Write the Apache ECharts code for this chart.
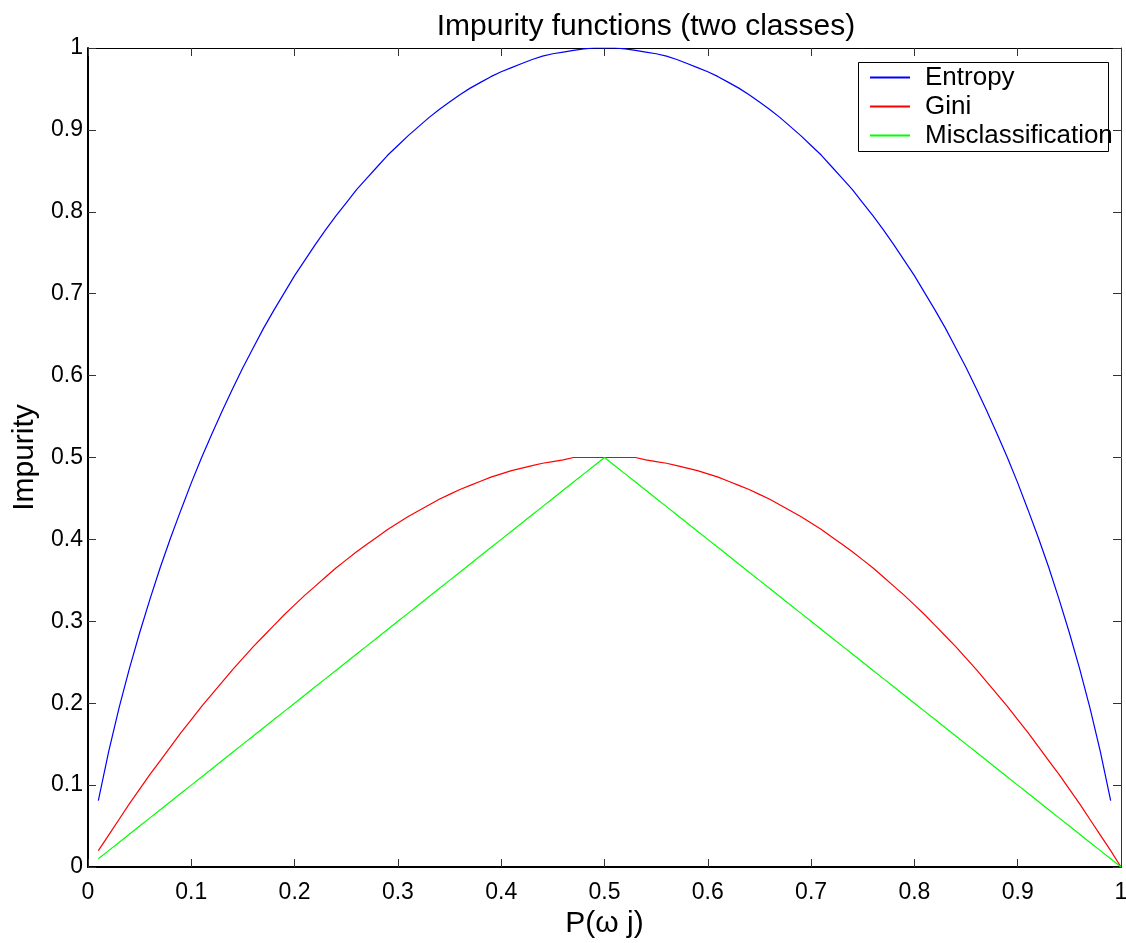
<!DOCTYPE html>
<html>
<head>
<meta charset="utf-8">
<title>Impurity functions</title>
<script src="https://cdn.jsdelivr.net/npm/echarts@6/dist/echarts.min.js"></script>
<style>
  html, body { margin: 0; padding: 0; background: #fff; }
  #chart { width: 1126px; height: 943px; }
</style>
</head>
<body>
<div id="chart"></div>
<script>
// impurity of a two-class node against P(w j)

var probs = [
    0.01, 0.02, 0.03, 0.04, 0.05, 0.06, 0.07, 0.08, 0.09, 0.10,
    0.11, 0.12, 0.13, 0.14, 0.15, 0.16, 0.17, 0.18, 0.19, 0.20,
    0.21, 0.22, 0.23, 0.24, 0.25, 0.26, 0.27, 0.28, 0.29, 0.30,
    0.31, 0.32, 0.33, 0.34, 0.35, 0.36, 0.37, 0.38, 0.39, 0.40,
    0.41, 0.42, 0.43, 0.44, 0.45, 0.46, 0.47, 0.48, 0.49, 0.50,
    0.51, 0.52, 0.53, 0.54, 0.55, 0.56, 0.57, 0.58, 0.59, 0.60,
    0.61, 0.62, 0.63, 0.64, 0.65, 0.66, 0.67, 0.68, 0.69, 0.70,
    0.71, 0.72, 0.73, 0.74, 0.75, 0.76, 0.77, 0.78, 0.79, 0.80,
    0.81, 0.82, 0.83, 0.84, 0.85, 0.86, 0.87, 0.88, 0.89, 0.90,
    0.91, 0.92, 0.93, 0.94, 0.95, 0.96, 0.97, 0.98, 0.99, 1.00
];

var entropy = [
    0.081, 0.141, 0.194, 0.242, 0.286, 0.327, 0.366, 0.402, 0.436, 0.469,
    0.500, 0.529, 0.557, 0.584, 0.610, 0.634, 0.658, 0.680, 0.701, 0.722,
    0.741, 0.760, 0.778, 0.795, 0.811, 0.827, 0.841, 0.855, 0.869, 0.881,
    0.893, 0.904, 0.915, 0.925, 0.934, 0.943, 0.951, 0.958, 0.965, 0.971,
    0.976, 0.981, 0.986, 0.990, 0.993, 0.995, 0.997, 0.999, 1.000, 1.000,
    1.000, 0.999, 0.997, 0.995, 0.993, 0.990, 0.986, 0.981, 0.976, 0.971,
    0.965, 0.958, 0.951, 0.943, 0.934, 0.925, 0.915, 0.904, 0.893, 0.881,
    0.869, 0.855, 0.841, 0.827, 0.811, 0.795, 0.778, 0.760, 0.741, 0.722,
    0.701, 0.680, 0.658, 0.634, 0.610, 0.584, 0.557, 0.529, 0.500, 0.469,
    0.436, 0.402, 0.366, 0.327, 0.286, 0.242, 0.194, 0.141, 0.081, null
];

var gini = [
    0.020, 0.039, 0.058, 0.077, 0.095, 0.113, 0.130, 0.147, 0.164, 0.180,
    0.196, 0.211, 0.226, 0.241, 0.255, 0.269, 0.282, 0.295, 0.308, 0.320,
    0.332, 0.343, 0.354, 0.365, 0.375, 0.385, 0.394, 0.403, 0.412, 0.420,
    0.428, 0.435, 0.442, 0.449, 0.455, 0.461, 0.466, 0.471, 0.476, 0.480,
    0.484, 0.487, 0.490, 0.493, 0.495, 0.497, 0.500, 0.500, 0.500, 0.500,
    0.500, 0.500, 0.500, 0.497, 0.495, 0.493, 0.490, 0.487, 0.484, 0.480,
    0.476, 0.471, 0.466, 0.461, 0.455, 0.449, 0.442, 0.435, 0.428, 0.420,
    0.412, 0.403, 0.394, 0.385, 0.375, 0.365, 0.354, 0.343, 0.332, 0.320,
    0.308, 0.295, 0.282, 0.269, 0.255, 0.241, 0.226, 0.211, 0.196, 0.180,
    0.164, 0.147, 0.130, 0.113, 0.095, 0.077, 0.058, 0.039, 0.020, 0.000
];

var misclass = [
    0.01, 0.02, 0.03, 0.04, 0.05, 0.06, 0.07, 0.08, 0.09, 0.10,
    0.11, 0.12, 0.13, 0.14, 0.15, 0.16, 0.17, 0.18, 0.19, 0.20,
    0.21, 0.22, 0.23, 0.24, 0.25, 0.26, 0.27, 0.28, 0.29, 0.30,
    0.31, 0.32, 0.33, 0.34, 0.35, 0.36, 0.37, 0.38, 0.39, 0.40,
    0.41, 0.42, 0.43, 0.44, 0.45, 0.46, 0.47, 0.48, 0.49, 0.50,
    0.49, 0.48, 0.47, 0.46, 0.45, 0.44, 0.43, 0.42, 0.41, 0.40,
    0.39, 0.38, 0.37, 0.36, 0.35, 0.34, 0.33, 0.32, 0.31, 0.30,
    0.29, 0.28, 0.27, 0.26, 0.25, 0.24, 0.23, 0.22, 0.21, 0.20,
    0.19, 0.18, 0.17, 0.16, 0.15, 0.14, 0.13, 0.12, 0.11, 0.10,
    0.09, 0.08, 0.07, 0.06, 0.05, 0.04, 0.03, 0.02, 0.01, 0.00
];

var seriesNames = ['Entropy', 'Gini', 'Misclassification'];

function pairs(values) {
    return probs.map(function (p, i) { return [p, values[i]]; });
}

var font = 'Liberation Sans, Arial, Helvetica, sans-serif';

// inner ticks, mirrored on the top/right like a boxed plot
var tickStyle = { show: true, inside: true, length: 8, lineStyle: { color: '#333', width: 1 } };

var myChart = echarts.init(document.getElementById('chart'));
var option = {
    backgroundColor: '#ffffff',
    animation: false,
    color: ['#0000ff', '#ff0000', '#00ff00'],
    title: {
        text: 'Impurity functions (two classes)',
        left: 641,
        top: 7,
        textAlign: 'center',
        textStyle: { fontFamily: font, fontSize: 30, fontWeight: 'normal', color: '#000' }
    },
    legend: {
        orient: 'vertical',
        left: 870,
        top: 63,
        padding: 0,
        itemGap: 0,
        itemWidth: 40,
        itemHeight: 2,
        icon: 'rect',
        textStyle: { fontFamily: font, fontSize: 26, color: '#000', lineHeight: 29, padding: [0, 0, 0, 10] },
        data: seriesNames
    },
    graphic: [
        {
            type: 'rect',
            z: 3,
            shape: { x: 858.5, y: 62.5, width: 250, height: 89 },
            style: { fill: '#fff', stroke: '#000', lineWidth: 1 }
        }
    ],
    grid: { left: 88, right: 5, top: 48, bottom: 76, outerBoundsMode: 'none' },
    xAxis: [
        {
            type: 'value',
            min: 0,
            max: 1,
            interval: 0.1,
            position: 'bottom',
            name: 'P(ω j)',
            nameLocation: 'middle',
            nameGap: 42,
            nameTextStyle: { fontFamily: font, fontSize: 30, color: '#000' },
            axisLine: { show: true, onZero: false, lineStyle: { color: '#000', width: 2 } },
            axisTick: tickStyle,
            axisLabel: { fontFamily: font, fontSize: 23, color: '#000', margin: 14 },
            splitLine: { show: false }
        },
        {
            type: 'value',
            min: 0,
            max: 1,
            interval: 0.1,
            position: 'top',
            axisLine: { show: true, onZero: false, lineStyle: { color: '#000', width: 1 } },
            axisTick: tickStyle,
            axisLabel: { show: false },
            splitLine: { show: false }
        }
    ],
    yAxis: [
        {
            type: 'value',
            min: 0,
            max: 1,
            interval: 0.1,
            position: 'left',
            name: 'Impurity',
            nameLocation: 'middle',
            nameGap: 44,
            nameTextStyle: { fontFamily: font, fontSize: 30, color: '#000' },
            axisLine: { show: true, onZero: false, lineStyle: { color: '#000', width: 2 } },
            axisTick: tickStyle,
            axisLabel: { fontFamily: font, fontSize: 23, color: '#000', margin: 5 },
            splitLine: { show: false }
        },
        {
            type: 'value',
            min: 0,
            max: 1,
            interval: 0.1,
            position: 'right',
            axisLine: { show: true, onZero: false, lineStyle: { color: '#333', width: 1 } },
            axisTick: tickStyle,
            axisLabel: { show: false },
            splitLine: { show: false }
        }
    ],
    series: [
        {
            name: seriesNames[0],
            type: 'line',
            showSymbol: false,
            lineStyle: { width: 1.2 },
            data: pairs(entropy)
        },
        {
            name: seriesNames[1],
            type: 'line',
            showSymbol: false,
            lineStyle: { width: 1.2 },
            data: pairs(gini)
        },
        {
            name: seriesNames[2],
            type: 'line',
            showSymbol: false,
            lineStyle: { width: 1.2 },
            data: pairs(misclass)
        }
    ]
};

myChart.setOption(option);
window.onresize = myChart.resize;
</script>
</body>
</html>
